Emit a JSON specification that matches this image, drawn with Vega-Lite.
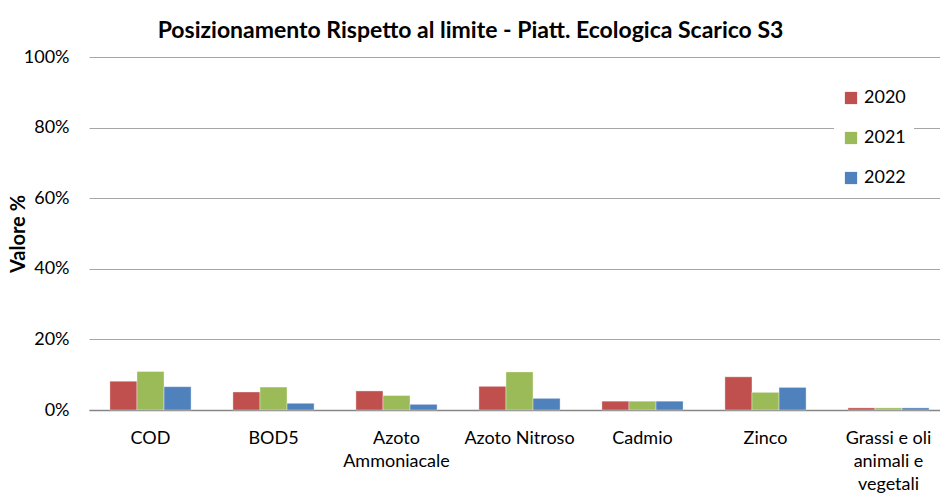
{
  "$schema": "https://vega.github.io/schema/vega-lite/v6.json",
  "autosize": "none",
  "width": 861,
  "height": 353,
  "padding": {"left": 89, "top": 57, "right": 0, "bottom": 88},
  "background": "white",
  "title": {"text": "Posizionamento Rispetto al limite - Piatt. Ecologica Scarico S3", "font": "Lato", "fontSize": 23, "fontWeight": "bold", "color": "#000000", "anchor": "middle", "dx": -49, "offset": 5},
  "data": {"values": [
    {"param": "COD", "anno": "2020", "v": 0.0815},
    {"param": "COD", "anno": "2021", "v": 0.109},
    {"param": "COD", "anno": "2022", "v": 0.066},
    {"param": "BOD5", "anno": "2020", "v": 0.051},
    {"param": "BOD5", "anno": "2021", "v": 0.065},
    {"param": "BOD5", "anno": "2022", "v": 0.019},
    {"param": "Azoto Ammoniacale", "anno": "2020", "v": 0.054},
    {"param": "Azoto Ammoniacale", "anno": "2021", "v": 0.041},
    {"param": "Azoto Ammoniacale", "anno": "2022", "v": 0.016},
    {"param": "Azoto Nitroso", "anno": "2020", "v": 0.067},
    {"param": "Azoto Nitroso", "anno": "2021", "v": 0.108},
    {"param": "Azoto Nitroso", "anno": "2022", "v": 0.033},
    {"param": "Cadmio", "anno": "2020", "v": 0.025},
    {"param": "Cadmio", "anno": "2021", "v": 0.025},
    {"param": "Cadmio", "anno": "2022", "v": 0.025},
    {"param": "Zinco", "anno": "2020", "v": 0.094},
    {"param": "Zinco", "anno": "2021", "v": 0.050},
    {"param": "Zinco", "anno": "2022", "v": 0.064},
    {"param": "Grassi e oli animali e vegetali", "anno": "2020", "v": 0.006},
    {"param": "Grassi e oli animali e vegetali", "anno": "2021", "v": 0.006},
    {"param": "Grassi e oli animali e vegetali", "anno": "2022", "v": 0.006}
  ]},
  "mark": {"type": "bar", "stroke": "white", "strokeWidth": 0.6, "strokeOpacity": 0.6},
  "encoding": {
    "x": {
      "field": "param", "type": "nominal", "sort": null,
      "scale": {"paddingInner": 0.34, "paddingOuter": 0.17},
      "axis": {
        "title": null, "labelAngle": 0, "ticks": false, "domainColor": "#868686", "domainWidth": 1.5,
        "labelFont": "Lato", "labelFontSize": 18, "labelColor": "#000000", "labelPadding": 28,
        "labelBaseline": "middle", "labelLineHeight": 23,
        "labelExpr": "datum.value == 'Azoto Ammoniacale' ? ['Azoto','Ammoniacale'] : datum.value == 'Grassi e oli animali e vegetali' ? ['Grassi e oli','animali e','vegetali'] : datum.value"
      }
    },
    "xOffset": {"field": "anno", "type": "nominal", "sort": ["2020", "2021", "2022"]},
    "y": {
      "field": "v", "type": "quantitative",
      "scale": {"domain": [0, 1], "nice": false},
      "axis": {
        "title": "Valore %", "titleFont": "Lato", "titleFontSize": 20, "titleFontWeight": "bold", "titleColor": "#000000", "titlePadding": -5,
        "format": ".0%", "values": [0, 0.2, 0.4, 0.6, 0.8, 1],
        "labelFont": "Lato", "labelFontSize": 18, "labelColor": "#000000", "labelPadding": 20,
        "ticks": false, "domain": false, "gridColor": "#a6a6a6", "gridWidth": 1.2
      }
    },
    "color": {
      "field": "anno", "type": "nominal",
      "scale": {"domain": ["2020", "2021", "2022"], "range": ["#C0504D", "#9BBB59", "#4F81BD"]},
      "legend": {
        "title": null, "orient": "none", "legendX": 745, "legendY": 24,
        "symbolType": "square", "symbolSize": 150, "symbolStrokeWidth": 0,
        "labelFont": "Lato", "labelFontSize": 18, "labelColor": "#000000",
        "rowPadding": 22, "fillColor": "white", "padding": 8, "labelOffset": 4
      }
    }
  },
  "config": {"view": {"stroke": null}}
}
